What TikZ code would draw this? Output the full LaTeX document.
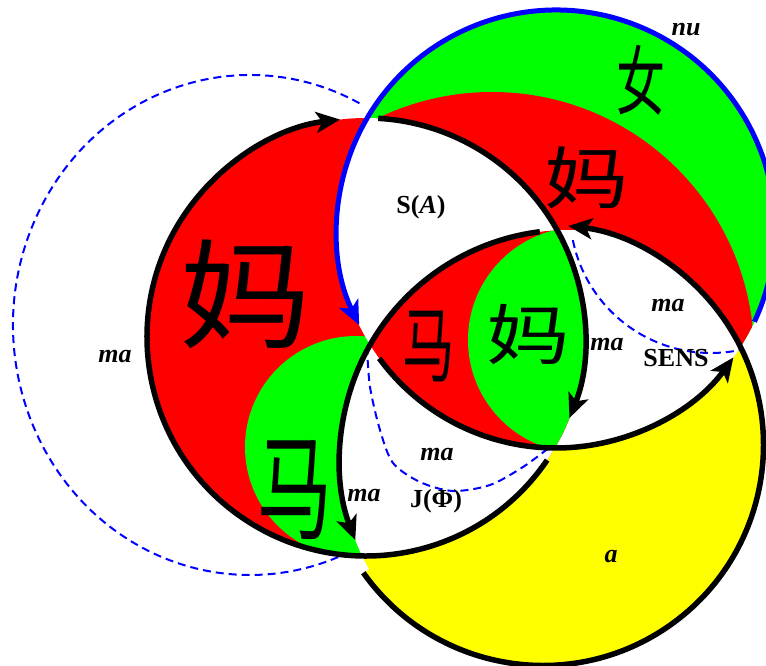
\documentclass[tikz,border=0pt]{standalone}
\usepackage{fontspec}
\usepackage{graphicx}
\usetikzlibrary{arrows.meta}
\setmainfont{Liberation Serif}
\newfontfamily\cjk{Noto Sans CJK SC}
\definecolor{pgreen}{RGB}{0,255,0}
\definecolor{pred}{RGB}{255,0,0}
\definecolor{pyellow}{RGB}{255,255,0}
\definecolor{pblue}{RGB}{0,0,255}
\newcommand{\Dshape}{(543,445) ++(-74.45:220.5) arc[start angle=-74.45, end angle=144.6, radius=220.5] -- (369.2,569.6) arc[start angle=150.7, end angle=278.6, radius=228] -- cycle}
\newcommand{\hz}[4]{\scalebox{#2}[#3]{\cjk\fontsize{#1}{#1}\selectfont #4}}
\begin{document}
\begin{tikzpicture}[x=1pt,y=-1pt,
  knot/.style={line width=5.5pt, black},
  bluearc/.style={line width=5pt, pblue},
  dashline/.style={pblue, line width=2pt, dash pattern=on 8pt off 5pt},
  arrowend/.style={-{Stealth[length=24pt,width=21pt,inset=6pt]}},
  lbl/.style={font=\fontsize{26}{26}\selectfont\bfseries\itshape, inner sep=0pt},
  lblup/.style={font=\fontsize{26}{26}\selectfont\bfseries, inner sep=0pt},
  han/.style={inner sep=0pt}
]
\useasboundingbox (0,0) rectangle (766,666);
\coordinate (cC) at (556,229);
\coordinate (cL) at (366,337);
\coordinate (cD) at (543,445);
\coordinate (cM) at (568,458);
\coordinate (cG1) at (356,447);
\coordinate (cG2) at (581,340);
\coordinate (cR) at (492,354);
\coordinate (cE) at (250,325);
\coordinate (cQ) at (711,212);
% fills
\fill[pgreen] (cC) circle[radius=219];
\begin{scope}
  \clip (cC) circle[radius=219];
  \fill[pred] (cR) circle[radius=262];
\end{scope}
\fill[pyellow] \Dshape;
\begin{scope}
  \clip (cC) circle[radius=219];
  \fill[white] \Dshape;
\end{scope}
\fill[pred] (cL) circle[radius=219];
\begin{scope}
  \clip (cL) circle[radius=219];
  \fill[pgreen] (cG1) circle[radius=111];
  \fill[white] (cC) circle[radius=219];
  \fill[white] \Dshape;
\end{scope}
\begin{scope}
  \clip (cL) circle[radius=219];
  \clip (cC) circle[radius=219];
  \fill[pred] \Dshape;
  \clip \Dshape;
  \fill[pgreen] (cG2) circle[radius=113];
\end{scope}
% dashed curves
\draw[dashline] (cE) ++(-62.5:237 and 250) arc[start angle=-62.5, end angle=-293, x radius=237, y radius=250];
\draw[dashline] plot[smooth] coordinates {(367,347) (370,387) (380,430) (393,463) (420,482) (453,491) (490,485) (523,467) (550,447)};
\draw[dashline] (cQ) ++(168.5:141) arc[start angle=168.5, end angle=76.9, radius=141];
% knot arcs
\draw[bluearc, arrowend] (cC) ++(25.05:219) arc[start angle=25.05, end angle=-206, radius=219];
\draw[knot, arrowend] (cC) ++(143.8:219) arc[start angle=143.8, end angle=35.9, radius=219];
\draw[knot, arrowend] (cL) ++(-86.8:219) arc[start angle=-86.8, end angle=21.7, radius=219];
\draw[knot, arrowend] (cL) ++(34.2:219) arc[start angle=34.2, end angle=263.2, radius=219];
\draw[knot, arrowend] (cD) ++(144.6:220.5) arc[start angle=144.6, end angle=-83.4, radius=220.5];
\draw[knot, arrowend] (cM) ++(262.9:228) arc[start angle=262.9, end angle=158.9, radius=228];
% labels
\node[lbl] (nu) at (686,30) {nu};
\node[han] (h1) at (641,80) {\hz{70}{0.7}{1.08}{女}};
\node[han] (h2) at (587,178) {\hz{65}{1.3}{1.04}{妈}};
\node[lblup] (sa) at (421,207) {S(\textit{A})};
\node[han] (h3) at (245,294) {\hz{110}{1.2}{1.08}{妈}};
\node[han] (h4) at (429,346) {\hz{75}{0.7}{1.1}{马}};
\node[han] (h5) at (528,335) {\hz{62}{1.35}{1.06}{妈}};
\node[lbl] (ma1) at (607,345) {ma};
\node[lbl] (ma2) at (668,306) {ma};
\node[lblup] (sens) at (676,358) {SENS};
\node[lbl] (ma3) at (115,357) {ma};
\node[han] (h6) at (295,490) {\hz{100}{0.75}{1.15}{马}};
\node[lbl] (ma4) at (437,455) {ma};
\node[lbl] (ma5) at (364,496) {ma};
\node[lblup] (jphi) at (436,501) {J(Φ)};
\node[lbl] (a) at (611,557) {a};
\end{tikzpicture}
\end{document}
